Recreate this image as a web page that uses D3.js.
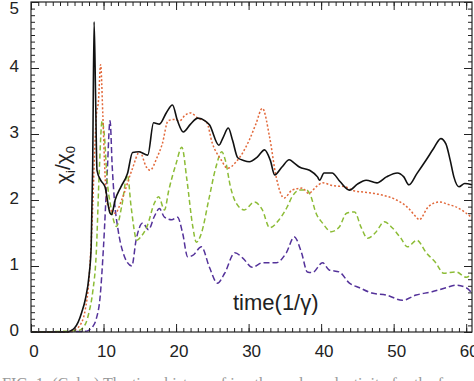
<!DOCTYPE html>
<html>
<head>
<meta charset="utf-8">
<script src="https://cdn.jsdelivr.net/npm/d3@7"></script>
<style>
  body { margin: 0; background: #fff; }
  #chart { width: 474px; height: 381px; }
</style>
</head>
<body>
<div id="chart"></div>
<script>
// values: [time, chi_i/chi_0]
var black_line = [
  [0,0],[5,0],[5.5,0.02],[6,0.06],[6.5,0.15],[7,0.3],[7.5,0.5],[8,0.85],[8.3,1.3],[8.5,2.5],
  [8.7,4.7],[8.9,3.6],[9.1,2.45],[9.6,2.3],[10.2,2.2],[10.9,1.8],[11.1,1.78],[11.6,2.0],[12.4,2.2],
  [13.3,2.4],[14.0,2.72],[14.9,2.73],[16.1,2.68],[16.9,3.17],[17.7,3.15],[18.7,3.33],[19.5,3.44],
  [20.2,3.2],[21.0,3.03],[22.0,3.15],[23.0,3.24],[24.0,3.2],[24.6,3.14],[25.9,2.83],[26.5,2.95],
  [27.2,3.09],[27.8,2.9],[28.5,2.64],[29.3,2.6],[30.1,2.58],[31.2,2.65],[32.2,2.76],[33.0,2.6],
  [33.6,2.38],[34.6,2.5],[35.6,2.61],[36.3,2.56],[37.0,2.5],[38.4,2.45],[39.5,2.35],[39.8,2.3],
  [40.4,2.41],[41.5,2.41],[42.6,2.28],[43.9,2.15],[45.0,2.24],[46.2,2.3],[47.7,2.26],[49.0,2.35],
  [50.5,2.41],[51.4,2.35],[52.1,2.23],[53.2,2.4],[54.5,2.61],[55.5,2.78],[56.5,2.93],[57.2,2.85],
  [57.8,2.6],[58.3,2.35],[59.0,2.2],[59.8,2.25],[60.8,2.23]
];
var orange_line = [
  [0,0],[5,0],[6,0.03],[7,0.15],[7.5,0.35],[8,0.8],[8.4,1.6],[8.8,2.8],[9.0,3.26],[9.3,3.5],
  [9.6,4.05],[9.9,3.3],[10.2,2.4],[10.5,1.95],[11.0,1.85],[11.6,1.8],[12.5,2.0],[13.9,2.45],
  [15.0,2.73],[15.9,2.5],[16.4,2.45],[17.4,2.65],[18.1,2.85],[18.9,3.2],[19.7,3.22],[20.5,3.2],
  [21.2,3.28],[22.0,3.32],[23.0,3.24],[24.2,3.18],[25.0,2.86],[26.2,2.61],[27.1,2.48],[28.3,2.58],
  [30.1,2.91],[31.0,3.15],[31.9,3.39],[32.9,2.95],[33.8,2.35],[34.9,2.03],[36.0,2.15],[37.4,2.18],
  [38.3,2.1],[39.3,2.2],[40.2,2.26],[41.5,2.22],[43.3,2.2],[44.5,2.14],[45.8,2.12],[48.2,2.08],
  [50.4,2.0],[52.0,1.88],[53.2,1.73],[53.5,1.7],[54.8,1.9],[56.3,1.97],[57.6,1.93],[58.5,1.9],
  [60.8,1.73]
];
var green_line = [
  [0,0],[6.5,0.02],[7.5,0.12],[8,0.3],[8.5,0.6],[9.0,1.2],[9.4,2.4],[9.8,3.2],[10.1,3.0],
  [10.5,2.3],[11.0,1.9],[11.8,1.6],[12.5,1.9],[13.3,2.38],[13.8,1.9],[14.6,1.39],[15.2,1.45],
  [16.0,1.6],[17.0,1.95],[17.6,2.05],[18.4,1.85],[19.0,2.15],[20.0,2.55],[20.8,2.8],[21.5,2.3],
  [22.3,1.6],[22.8,1.36],[23.5,1.5],[24.5,2.0],[25.5,2.5],[26.3,2.73],[26.8,2.6],[27.5,2.2],
  [28.3,1.95],[29.4,1.85],[30.8,1.97],[31.9,1.85],[32.9,1.58],[34.2,1.7],[35.3,1.89],[36.0,2.05],
  [37.0,2.15],[38.0,2.15],[38.5,2.08],[39.3,1.8],[40.2,1.65],[41.4,1.52],[42.5,1.59],[43.5,1.8],
  [44.6,1.82],[45.5,1.59],[46.4,1.42],[47.6,1.52],[48.7,1.67],[49.8,1.58],[51.0,1.42],[51.9,1.29],
  [53.2,1.39],[54.5,1.2],[55.8,1.05],[56.9,0.89],[58.6,0.91],[60.0,0.83],[60.8,0.89]
];
var purple_line = [
  [0,0],[7.5,0.01],[8,0.03],[8.5,0.08],[9.0,0.2],[9.5,0.5],[10.0,1.3],[10.5,2.4],[10.9,3.2],
  [11.2,2.5],[11.5,2.0],[12.0,1.55],[12.7,1.2],[13.3,1.05],[13.9,1.0],[14.5,1.4],[15.4,1.65],
  [16.2,1.55],[17.0,1.75],[17.7,1.87],[18.4,1.74],[19.4,1.7],[20.2,1.74],[20.9,1.5],[21.6,1.14],
  [22.3,1.16],[23.5,1.29],[24.6,0.98],[25.7,0.74],[26.7,0.89],[28.1,1.2],[29.2,1.12],[30.5,0.98],
  [31.9,1.05],[33.8,1.05],[35.2,1.2],[36.3,1.44],[37.3,1.2],[38.1,0.91],[38.8,0.9],[40.2,1.05],
  [41.1,0.94],[42.5,0.91],[43.9,0.74],[45.3,0.67],[47.0,0.59],[49.0,0.56],[51.2,0.48],[53.1,0.56],
  [55.3,0.61],[57.2,0.67],[58.6,0.71],[60.0,0.67],[60.8,0.59]
];

var x_ticks = [0, 10, 20, 30, 40, 50, 60]
var y_ticks = [0, 1, 2, 3, 4, 5]

var series = [
  { data: black_line,  color: "#111111", dash: null,  width: 1.6 },
  { data: orange_line, color: "#e2683a", dash: "2,2", width: 1.5 },
  { data: green_line,  color: "#8cbc36", dash: "5,3", width: 1.5 },
  { data: purple_line, color: "#54329a", dash: "6,3", width: 1.5 }
]

var width = 474, height = 381
var plot = { left: 31, right: 472, top: 2, bottom: 332 }

var svg = d3.select("#chart").append("svg")
    .attr("width", width)
    .attr("height", height)
    .style("font-family", "'Liberation Sans', Arial, sans-serif")

var x = d3.scaleLinear().domain([0, 60.8]).range([plot.left, plot.right])
var y = d3.scaleLinear().domain([0, 5]).range([plot.bottom, plot.top])

var line = d3.line()
    .x(function(d){ return x(d[0]) })
    .y(function(d){ return y(d[1]) })
    .curve(d3.curveMonotoneX)

var lines = svg.append("g").attr("class", "lines")
// draw back to front: purple, green, orange, black
series.slice().reverse().forEach(function(s){
  lines.append("path")
      .datum(s.data)
      .attr("d", line)
      .attr("fill", "none")
      .attr("stroke", s.color)
      .attr("stroke-width", s.width)
      .attr("stroke-dasharray", s.dash)
})

// frame
svg.append("rect")
    .attr("x", plot.left)
    .attr("y", plot.top)
    .attr("width", plot.right - plot.left)
    .attr("height", plot.bottom - plot.top)
    .attr("fill", "none")
    .attr("stroke", "#222")
    .attr("stroke-width", 1.2)

// inward ticks, all four sides
var x_minor = d3.range(0, 61, 1)
var y_minor = d3.range(0, 50, 1).map(function(d){ return d / 10 })

function add_axis(axis, tx, ty){
  var g = svg.append("g")
      .attr("transform", "translate(" + tx + "," + ty + ")")
      .call(axis)
  g.select(".domain").remove()
  g.selectAll("line").attr("stroke", "#222").attr("stroke-width", 1)
  return g
}
add_axis(d3.axisBottom(x).tickValues(x_minor).tickSize(-4).tickFormat(""), 0, plot.bottom)
add_axis(d3.axisTop(x).tickValues(x_minor).tickSize(-4).tickFormat(""), 0, plot.top)
add_axis(d3.axisLeft(y).tickValues(y_minor).tickSize(-4).tickFormat(""), plot.left, 0)
add_axis(d3.axisRight(y).tickValues(y_minor).tickSize(-4).tickFormat(""), plot.right, 0)

add_axis(d3.axisBottom(x).tickValues(x_ticks).tickSize(-8).tickFormat(""), 0, plot.bottom)
add_axis(d3.axisTop(x).tickValues(x_ticks).tickSize(-8).tickFormat(""), 0, plot.top)
add_axis(d3.axisLeft(y).tickValues(y_ticks).tickSize(-8).tickFormat(""), plot.left, 0)
add_axis(d3.axisRight(y).tickValues(y_ticks).tickSize(-8).tickFormat(""), plot.right, 0)

// tick labels
svg.append("g").selectAll("text")
    .data(x_ticks)
    .enter().append("text")
    .attr("x", function(d){ return x(d) + 3 })
    .attr("y", 357)
    .attr("text-anchor", "middle")
    .attr("font-size", 17)
    .attr("fill", "#222")
    .text(function(d){ return d })

svg.append("g").selectAll("text")
    .data(y_ticks)
    .enter().append("text")
    .attr("x", 19)
    .attr("y", function(d){ return Math.max(y(d) - 2, 8) })
    .attr("dy", "0.35em")
    .attr("text-anchor", "end")
    .attr("font-size", 17)
    .attr("fill", "#222")
    .text(function(d){ return d })

// axis titles
var ylab = svg.append("text")
    .attr("transform", "translate(70,165) rotate(-90)")
    .attr("text-anchor", "middle")
    .attr("font-size", 21)
    .attr("fill", "#222")
ylab.append("tspan").text("χ")
ylab.append("tspan").attr("font-size", 13).attr("dy", 5).text("i")
ylab.append("tspan").attr("dy", -5).text("/χ")
ylab.append("tspan").attr("font-size", 13).attr("dy", 5).text("0")

svg.append("text")
    .attr("x", 233)
    .attr("y", 310)
    .attr("font-size", 22)
    .attr("fill", "#222")
    .text("time(1/γ)")

// clipped caption line below the figure
svg.append("text")
    .attr("x", 2)
    .attr("y", 389)
    .attr("font-family", "'Liberation Serif', serif")
    .attr("font-size", 16)
    .attr("fill", "#999")
    .text("FIG. 1: (Color) The time history of ion thermal conductivity for the four runs")
</script>
</body>
</html>
